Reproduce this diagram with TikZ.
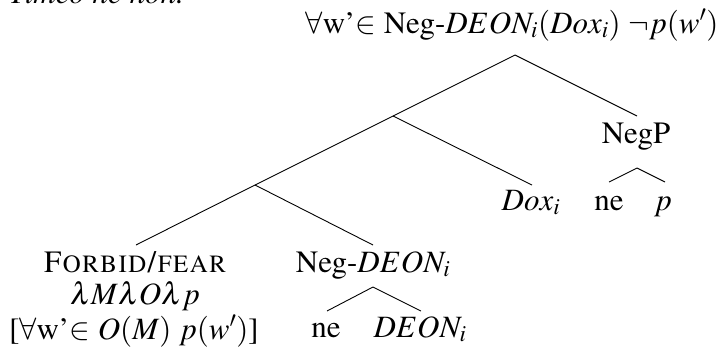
\documentclass[tikz,border=0pt]{standalone}
\usepackage[T1]{fontenc}
\usepackage{mathptmx}
\begin{document}
\begin{tikzpicture}[x=1pt,y=-1pt,
  lbl/.style={anchor=base,inner sep=0pt,font=\fontsize{31}{37}\selectfont},
  branch/.style={line width=0.9pt}]
\useasboundingbox (0,0) rectangle (726,354);
% cut-off sentence at top
\node[lbl,anchor=base west] (title) at (9,3) {\itshape Timeo ne non.};
% labels
\node[lbl] (root) at (512,33) {$\forall$w'$\in$ Neg-$DEON_i(Dox_i)$ $\neg p(w')$};
\node[lbl] (negp) at (636,143) {NegP};
\node[lbl] (dox) at (531,210) {$Dox_i$};
\node[lbl] (ne1) at (609,210) {ne};
\node[lbl] (p) at (663,210) {$p$};
\node[lbl] (forbid) at (135,272) {\textsc{Forbid/fear}};
\node[lbl] (lam) at (135,304) {$\lambda M\lambda O\lambda p$};
\node[lbl] (sem) at (134,339) {[$\forall$w'$\in$ $O(M)$ $p(w')$]};
\node[lbl] (negdeon) at (373,272) {Neg-$DEON_i$};
\node[lbl] (ne2) at (326,337) {ne};
\node[lbl] (deon) at (420,337) {$DEON_i$};
% branching points
\coordinate (r0) at (515,55);
\coordinate (a) at (393,116);
\coordinate (b) at (255,185);
\coordinate (negptop) at (637,116);
\coordinate (doxtop) at (532,185);
\coordinate (forbidtop) at (136,245);
\coordinate (negdeontop) at (373,245);
\coordinate (negpbot) at (637,168);
\coordinate (ne1top) at (609,182);
\coordinate (ptop) at (665,182);
\coordinate (negdeonbot) at (373,287);
\coordinate (ne2top) at (327,311);
\coordinate (deontop) at (421,311);
% connectors
\draw[branch] (a) -- (r0) -- (negptop);
\draw[branch] (b) -- (a) -- (doxtop);
\draw[branch] (forbidtop) -- (b) -- (negdeontop);
\draw[branch] (ne1top) -- (negpbot) -- (ptop);
\draw[branch] (ne2top) -- (negdeonbot) -- (deontop);
\end{tikzpicture}
\end{document}
